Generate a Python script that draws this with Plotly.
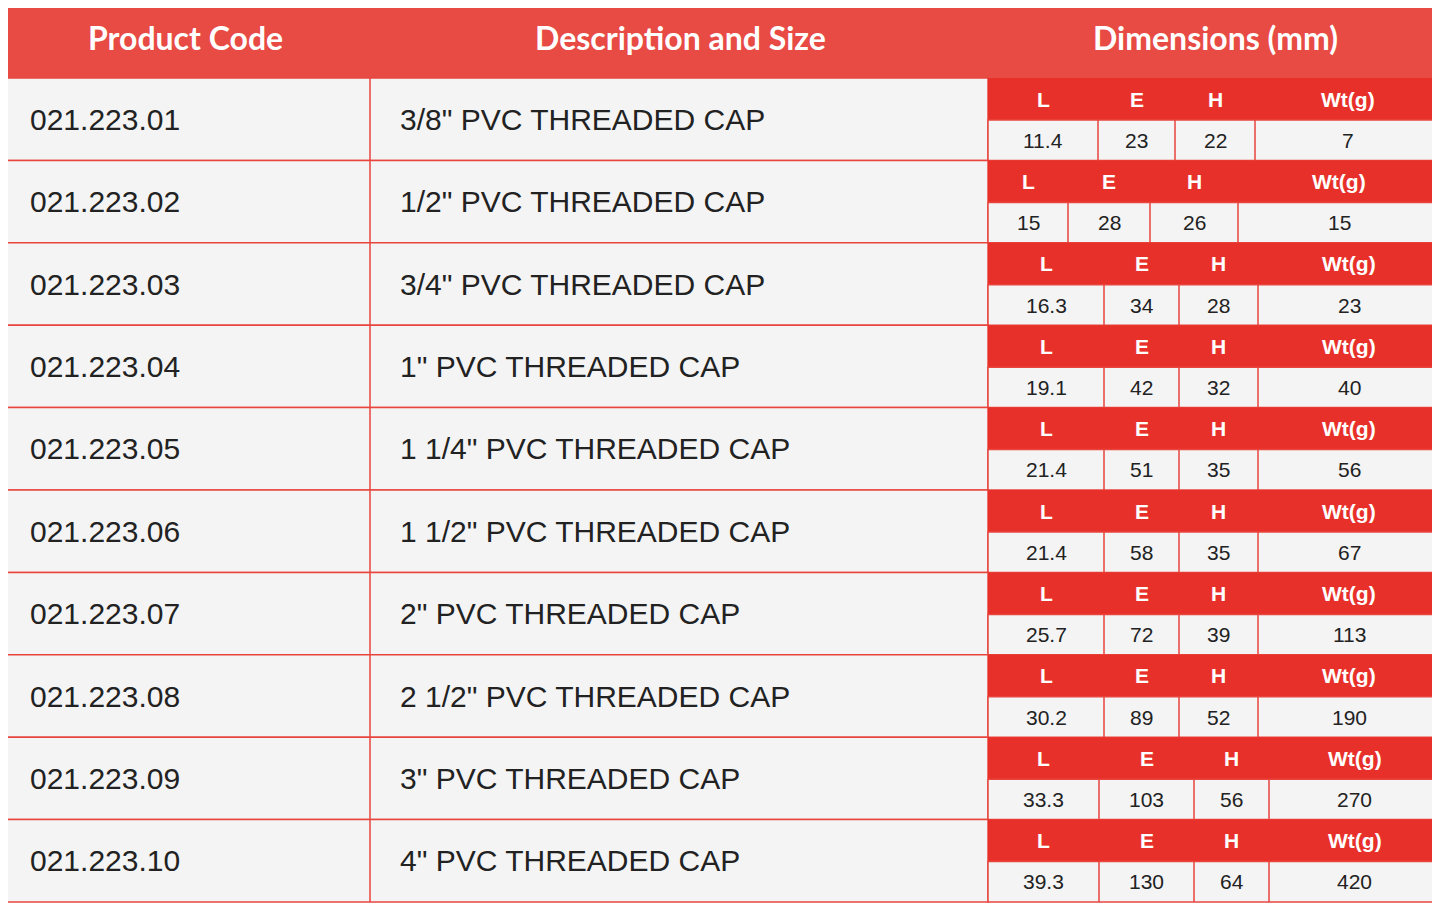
import plotly.graph_objects as go

# data
headers = ["Product Code", "Description and Size", "Dimensions (mm)"]
dim_labels = ["L", "E", "H", "Wt(g)"]
codes = ["021.223.01", "021.223.02", "021.223.03", "021.223.04", "021.223.05",
         "021.223.06", "021.223.07", "021.223.08", "021.223.09", "021.223.10"]
descriptions = ['3/8" PVC THREADED CAP', '1/2" PVC THREADED CAP', '3/4" PVC THREADED CAP',
                '1" PVC THREADED CAP', '1 1/4" PVC THREADED CAP', '1 1/2" PVC THREADED CAP',
                '2" PVC THREADED CAP', '2 1/2" PVC THREADED CAP', '3" PVC THREADED CAP',
                '4" PVC THREADED CAP']
L_vals = ["11.4", "15", "16.3", "19.1", "21.4", "21.4", "25.7", "30.2", "33.3", "39.3"]
E_vals = ["23", "28", "34", "42", "51", "58", "72", "89", "103", "130"]
H_vals = ["22", "26", "28", "32", "35", "35", "39", "52", "56", "64"]
Wt_vals = ["7", "15", "23", "40", "56", "67", "113", "190", "270", "420"]

# layout (pixels)
W, Hgt = 1440, 903
OFF = 8  # page body margin, shift view so the table starts at the window edge
head_h = 78
row_h = 82.4
col_x = [0, 370, 988, 1440]
# sub-column edges inside the dimensions block, per row
sub_edges = [[988, 1098, 1175, 1255, 1440], [988, 1068, 1150, 1238, 1440]] + \
            [[988, 1104, 1179, 1258, 1440]] * 6 + [[988, 1099, 1194, 1269, 1440]] * 2
RED = "#e8302a"
HEAD = "#e84a44"
LINE = "#e8453f"
BG = "#f4f4f4"

shapes, ann = [], []
shapes.append(dict(type="rect", x0=-20, x1=W + 20, y0=-20, y1=head_h, fillcolor=HEAD, line_width=0, layer="below"))
centers = [185, 680, 1215]
for h, cx in zip(headers, centers):
    ann.append(dict(x=cx, y=head_h / 2 - 2, text="<b>%s</b>" % h, showarrow=False,
                    font=dict(size=32, color="white", family="Lato")))

for i in range(len(codes)):
    y0 = head_h + i * row_h
    y1 = y0 + row_h
    ym = y0 + row_h * 0.51
    shapes.append(dict(type="rect", x0=0, x1=col_x[2], y0=y0, y1=y1, fillcolor=BG,
                       line=dict(color=LINE, width=1.5), layer="below"))
    shapes.append(dict(type="line", x0=col_x[1], x1=col_x[1], y0=y0, y1=y1, line=dict(color=LINE, width=1.5)))
    shapes.append(dict(type="rect", x0=col_x[2], x1=W, y0=y0, y1=ym, fillcolor=RED, line_width=0, layer="below"))
    shapes.append(dict(type="rect", x0=col_x[2], x1=W, y0=ym, y1=y1, fillcolor=BG,
                       line=dict(color=LINE, width=1.5), layer="below"))
    ann.append(dict(x=28, y=(y0 + y1) / 2, text=codes[i], xanchor="left", showarrow=False,
                    font=dict(size=30, color="#222", family="Liberation Sans")))
    ann.append(dict(x=398, y=(y0 + y1) / 2, text=descriptions[i], xanchor="left", showarrow=False,
                    font=dict(size=30, color="#222", family="Liberation Sans")))
    e = sub_edges[i]
    vals = [L_vals[i], E_vals[i], H_vals[i], Wt_vals[i]]
    for k in range(4):
        cx = (e[k] + e[k + 1]) / 2
        if k > 0:
            shapes.append(dict(type="line", x0=e[k], x1=e[k], y0=ym, y1=y1, line=dict(color=LINE, width=1.5)))
        ann.append(dict(x=cx, y=(y0 + ym) / 2, text="<b>%s</b>" % dim_labels[k], showarrow=False,
                        font=dict(size=21, color="white", family="Liberation Sans")))
        ann.append(dict(x=cx, y=(ym + y1) / 2, text=vals[k], showarrow=False,
                        font=dict(size=21, color="#222", family="Liberation Sans")))

fig = go.Figure()
fig.update_layout(width=W, height=Hgt, margin=dict(l=0, r=0, t=0, b=0),
                  plot_bgcolor="white", paper_bgcolor="white", shapes=shapes, annotations=ann,
                  xaxis=dict(range=[OFF, W + OFF], visible=False, fixedrange=True),
                  yaxis=dict(range=[Hgt + OFF, OFF], visible=False, fixedrange=True),
                  showlegend=False)
fig.write_html("out.html", config={"displayModeBar": False})
